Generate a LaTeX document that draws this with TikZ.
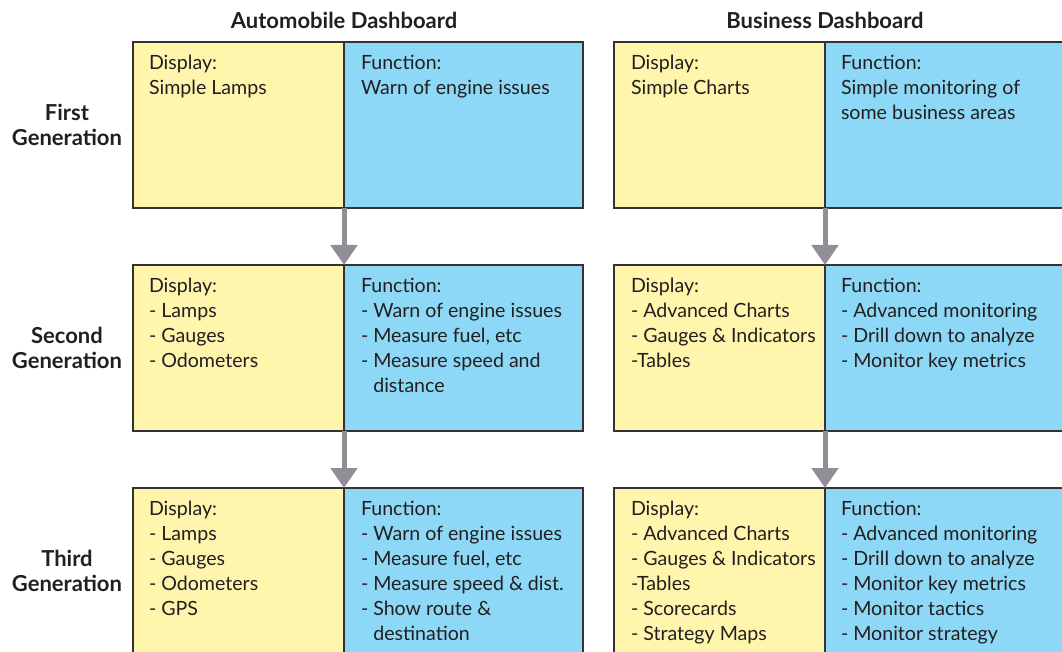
\documentclass[tikz,border=0pt]{standalone}
\usepackage{fontspec}
\setmainfont{Lato}
\usetikzlibrary{positioning}
\usetikzlibrary{arrows.meta}

\definecolor{displayfill}{RGB}{255,245,173}
\definecolor{functionfill}{RGB}{141,216,246}
\definecolor{stepgray}{RGB}{143,143,148}
\definecolor{edgegray}{RGB}{51,51,51}
\definecolor{inkgray}{RGB}{35,31,32}

\begin{document}
\begin{tikzpicture}[
        x=1pt, y=1pt,
        every node/.style={font=\fontsize{19.6}{25}\selectfont, text=inkgray,
                           inner sep=0pt, outer sep=0pt},
        displaybox/.style = {draw=edgegray, line width=1.5pt, fill=displayfill,
                             minimum width=211pt, minimum height=166pt},
        functionbox/.style = {draw=edgegray, line width=1.5pt, fill=functionfill,
                              minimum width=239pt, minimum height=166pt},
        boxtext/.style = {align=left},
        heading/.style = {font=\fontsize{22}{25}\selectfont\bfseries, align=center},
        nextgen/.style = {-{Triangle[width=26pt,length=20pt]}, line width=5pt, draw=stepgray}
        ]
        \useasboundingbox (0,0) rectangle (1062,-652);
        \clip (0,0) rectangle (1062,-652);

        % boxes, one row per generation
        \node[displaybox, anchor=north west] (a1) at (133,-42) {};
        \node[functionbox] [right = 0pt of a1] (b1) {};
        \node[displaybox] [right = 31pt of b1] (c1) {};
        \node[functionbox] [right = 0pt of c1] (d1) {};

        \node[displaybox] [below = 57pt of a1] (a2) {};
        \node[functionbox] [right = 0pt of a2] (b2) {};
        \node[displaybox] [right = 31pt of b2] (c2) {};
        \node[functionbox] [right = 0pt of c2] (d2) {};

        \node[displaybox] [below = 57pt of a2] (a3) {};
        \node[functionbox] [right = 0pt of a3] (b3) {};
        \node[displaybox] [right = 31pt of b3] (c3) {};
        \node[functionbox] [right = 0pt of c3] (d3) {};

        % column and row headings
        \node[heading] [above = 13pt of a1.north east] (autotitle) {Automobile Dashboard};
        \node[heading] [above = 13pt of c1.north east] (biztitle) {Business Dashboard};
        \node[heading] [left = 11pt of a1] (gen1) {First\\Generation};
        \node[heading] [left = 11pt of a2] (gen2) {Second\\Generation};
        \node[heading] [left = 11pt of a3] (gen3) {Third\\Generation};

        % box contents
        \node[boxtext] [below right = 13pt and 16pt of a1.north west] (a1t) {Display:\\Simple Lamps};
        \node[boxtext] [below right = 13pt and 17pt of b1.north west] (b1t) {Function:\\Warn of engine issues};
        \node[boxtext] [below right = 13pt and 17pt of c1.north west] (c1t) {Display:\\Simple Charts};
        \node[boxtext] [below right = 13pt and 16pt of d1.north west] (d1t) {Function:\\Simple monitoring of\\some business areas};

        \node[boxtext] [below right = 13pt and 16pt of a2.north west] (a2t) {Display:\\- Lamps\\- Gauges\\- Odometers};
        \node[boxtext] [below right = 13pt and 17pt of b2.north west] (b2t) {Function:\\- Warn of engine issues\\- Measure fuel, etc\\- Measure speed and\\\phantom{- }distance};
        \node[boxtext] [below right = 13pt and 17pt of c2.north west] (c2t) {Display:\\- Advanced Charts\\- Gauges \& Indicators\\-Tables};
        \node[boxtext] [below right = 13pt and 16pt of d2.north west] (d2t) {Function:\\- Advanced monitoring\\- Drill down to analyze\\- Monitor key metrics};

        \node[boxtext] [below right = 13pt and 16pt of a3.north west] (a3t) {Display:\\- Lamps\\- Gauges\\- Odometers\\- GPS};
        \node[boxtext] [below right = 13pt and 17pt of b3.north west] (b3t) {Function:\\- Warn of engine issues\\- Measure fuel, etc\\- Measure speed \& dist.\\- Show route \&\\\phantom{- }destination};
        \node[boxtext] [below right = 13pt and 17pt of c3.north west] (c3t) {Display:\\- Advanced Charts\\- Gauges \& Indicators\\-Tables\\- Scorecards\\- Strategy Maps};
        \node[boxtext] [below right = 13pt and 16pt of d3.north west] (d3t) {Function:\\- Advanced monitoring\\- Drill down to analyze\\- Monitor key metrics\\- Monitor tactics\\- Monitor strategy};

        % generation steps
        \draw[nextgen] (a1.south east) -- (a2.north east);
        \draw[nextgen] (a2.south east) -- (a3.north east);
        \draw[nextgen] (c1.south east) -- (c2.north east);
        \draw[nextgen] (c2.south east) -- (c3.north east);
    \end{tikzpicture}
\end{document}
